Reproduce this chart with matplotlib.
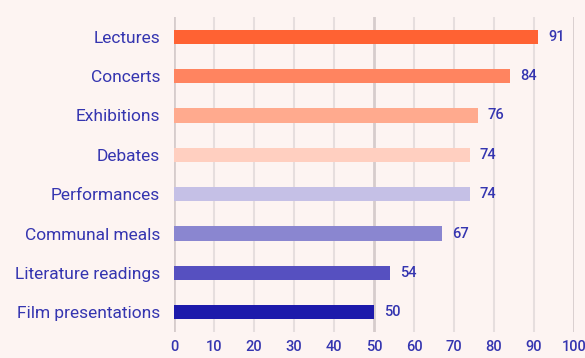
import matplotlib
matplotlib.use("Agg")
import matplotlib.pyplot as plt

categorias = ["Lectures", "Concerts", "Exhibitions", "Debates", "Performances",
              "Communal meals", "Literature readings", "Film presentations"]
valores = [91, 84, 76, 74, 74, 67, 54, 50]
colores = ["#ff6233", "#ff8460", "#ffaa8e", "#ffcfc0", "#c5c0e6",
           "#8a86d0", "#5650c0", "#1d1aab"]
ticks_x = [0, 10, 20, 30, 40, 50, 60, 70, 80, 90, 100]

fondo = "#fdf4f2"
texto = "#3535b0"

plt.rcParams['font.family'] = ['Roboto', 'DejaVu Sans']

fig = plt.figure(figsize=(5.85, 3.58), dpi=100, facecolor=fondo)
ax = fig.add_axes([0.2974, 0.0726, 0.6838, 0.88])
ax.set_facecolor(fondo)

# lineas de la rejilla
for t in ticks_x:
    if t % 50 == 0:
        ax.axvline(t, color="#d6cccc", linewidth=2, zorder=0)
    else:
        ax.axvline(t, color="#e6dede", linewidth=1.5, zorder=0)

pos = list(range(len(categorias)))
ax.barh(pos, valores, height=0.36, color=colores, zorder=2)

for p, v in zip(pos, valores):
    ax.text(v + 2.5, p, str(v), va="center", ha="left", fontsize=10.5,
            color=texto, fontweight="medium", family=["Roboto", "DejaVu Sans"])

ax.set_xlim(0, 100)
ax.set_ylim(7.5, -0.5)
ax.set_yticks(pos)
ax.set_yticklabels(categorias, fontsize=12.5, color=texto)
ax.set_xticks(ticks_x)
ax.set_xticklabels([str(t) for t in ticks_x], fontsize=10.5, color=texto,
                   fontweight="medium", family=["Roboto", "DejaVu Sans"])
ax.tick_params(axis="both", length=0)
ax.tick_params(axis="y", pad=10)
ax.tick_params(axis="x", pad=6)
for s in ax.spines.values():
    s.set_visible(False)

fig.savefig("out.png", dpi=100, facecolor=fondo)
